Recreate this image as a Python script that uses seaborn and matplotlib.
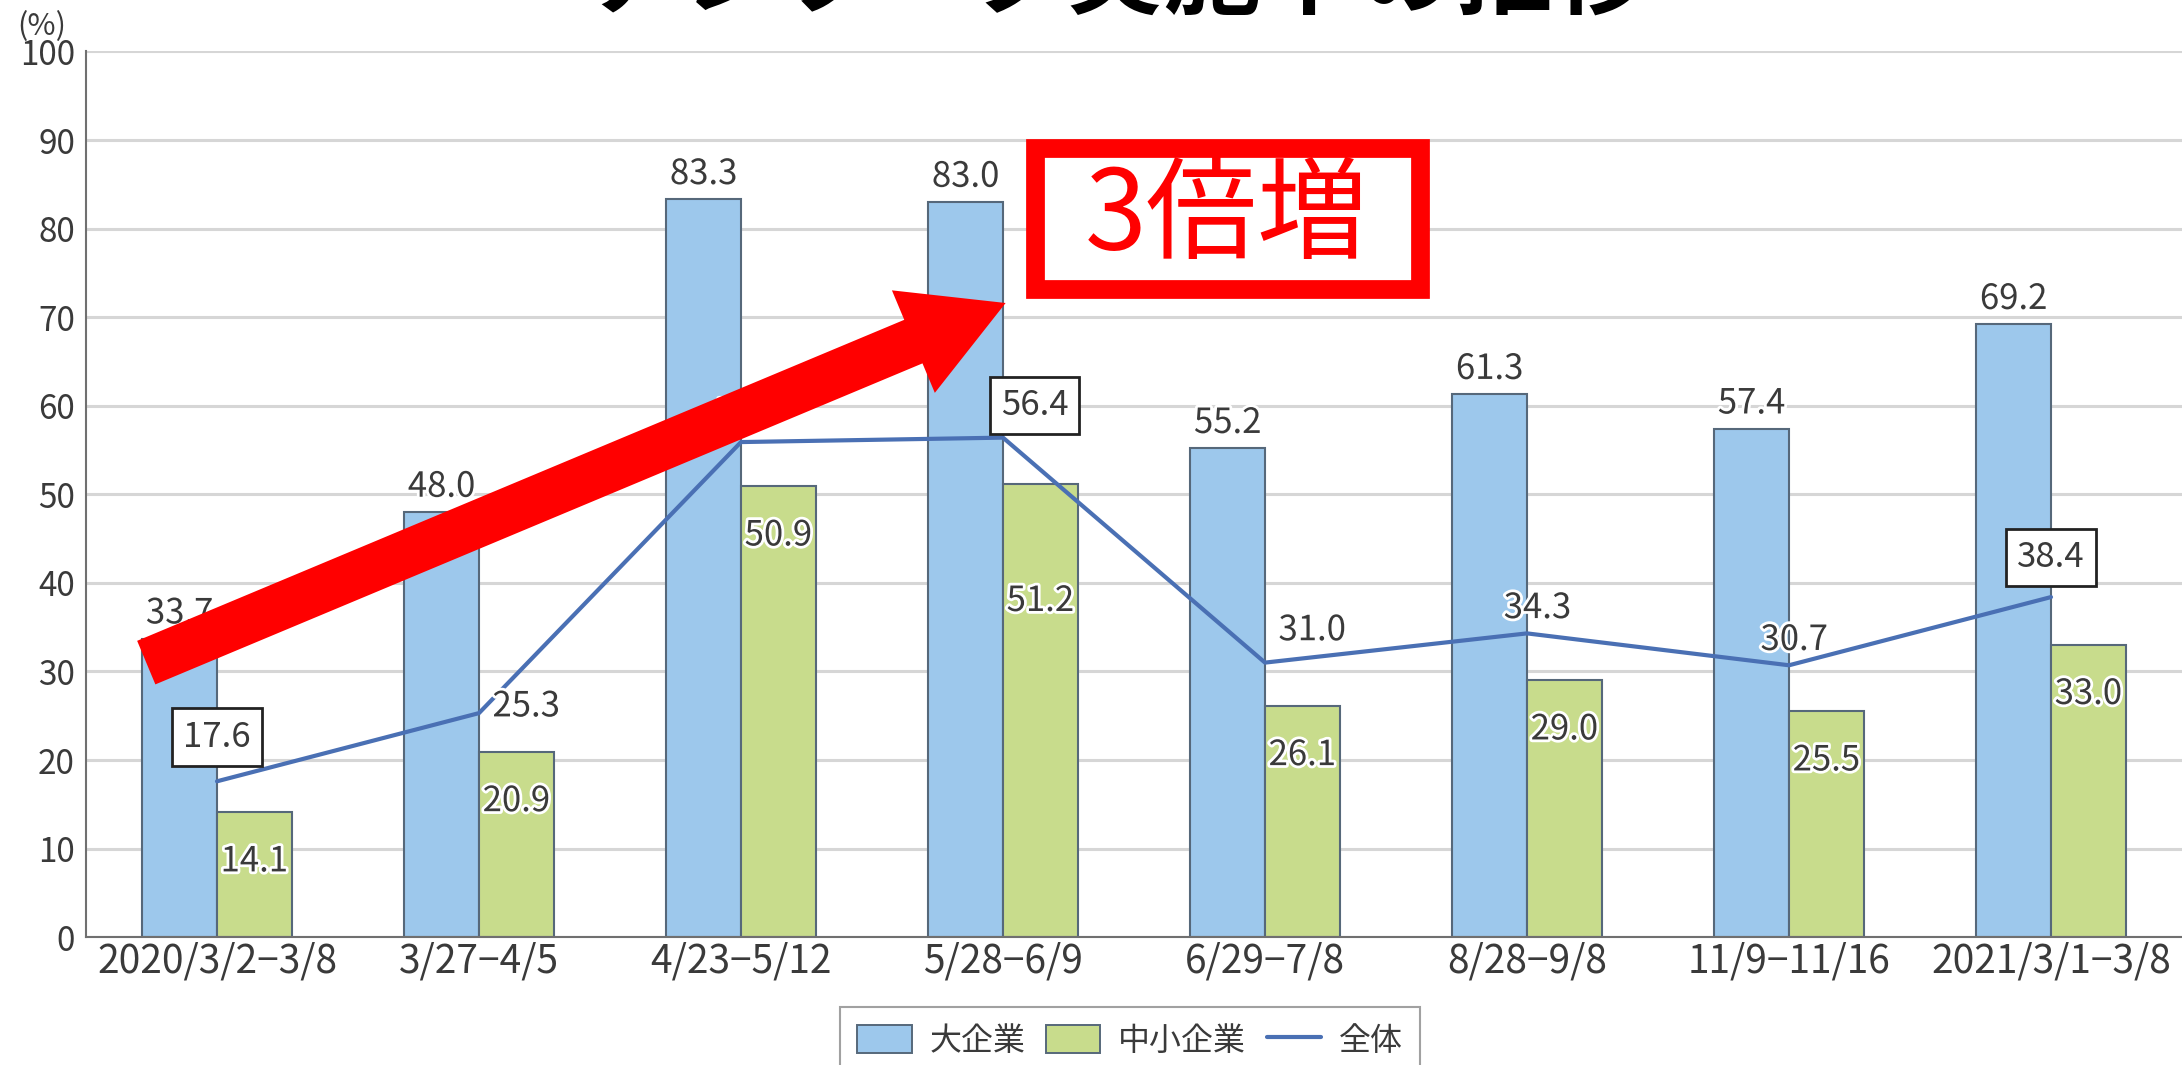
import numpy as np
import pandas as pd
import seaborn as sns
import matplotlib.pyplot as plt
import matplotlib.patheffects as pe
from matplotlib.patches import Patch, Rectangle, FancyArrowPatch, ArrowStyle
from matplotlib.lines import Line2D

# データ（テレワーク実施率, %）
periods = ["2020/3/2−3/8", "3/27−4/5", "4/23−5/12", "5/28−6/9",
           "6/29−7/8", "8/28−9/8", "11/9−11/16", "2021/3/1−3/8"]
large = [33.7, 48.0, 83.3, 83.0, 55.2, 61.3, 57.4, 69.2]
small = [14.1, 20.9, 50.9, 51.2, 26.1, 29.0, 25.5, 33.0]
total = [17.6, 25.3, 55.9, 56.4, 31.0, 34.3, 30.7, 38.4]
names = ["大企業", "中小企業", "全体"]

BLUE = "#9dc8ec"
GREEN = "#c8dc8c"
LINE = "#4a70b4"
EDGE = "#56687a"
TXT = "#3a3a3a"

sns.set_theme(style="white")
plt.rcParams["font.family"] = ["Noto Sans CJK JP", "DejaVu Sans"]

df = pd.DataFrame({
    "period": periods * 2,
    "value": large + small,
    "group": [names[0]] * len(periods) + [names[1]] * len(periods),
})

fig = plt.figure(figsize=(21.82, 10.65), dpi=100)
ax = fig.add_axes([86 / 2182, 0.120, 1 - 86 / 2182, 0.8317])

sns.barplot(data=df, x="period", y="value", hue="group", palette=[BLUE, GREEN],
            saturation=1, width=0.57, edgecolor=EDGE, linewidth=1.5, legend=False, ax=ax)
pos = np.arange(len(periods))
sns.lineplot(x=pos, y=total, color=LINE, lw=3, ax=ax, zorder=4)

ax.set_xlim(-0.5, len(periods) - 0.5)
ax.set_ylim(0, 100)
ax.set_yticks(range(0, 101, 10))
ax.set_xlabel("")
ax.set_ylabel("")
ax.yaxis.grid(True, color="#d6d6d6", lw=2.2)
ax.set_axisbelow(True)
for s in ["top", "right"]:
    ax.spines[s].set_visible(False)
for s in ["left", "bottom"]:
    ax.spines[s].set_color("#707070")
    ax.spines[s].set_linewidth(1.5)
ax.tick_params(axis="y", length=0, pad=8, labelsize=24, labelcolor=TXT)
ax.tick_params(axis="x", length=0, pad=3, labelsize=28, labelcolor=TXT)
ax.set_xticks(pos + 0.5, minor=True)
ax.tick_params(axis="x", which="minor", direction="in", length=8, width=1.3, color="#707070")

halo = [pe.withStroke(linewidth=4, foreground="white")]
bw = 0.57 / 2
for i in range(len(periods)):
    ax.text(i - bw / 2, large[i] + 2.8, f"{large[i]:.1f}", ha="center", va="center",
            fontsize=25, color=TXT, path_effects=halo, zorder=6)
    drop = 13.3 if i == 3 else 5.6
    ax.text(i + bw / 2, small[i] - drop, f"{small[i]:.1f}", ha="center", va="center",
            fontsize=25, color=TXT, path_effects=halo, zorder=6)

# 全体のラベル位置（点からのずれ）と枠付きの有無
line_offsets = [(0.0, 5.0), (0.18, 0.7), (0.03, 3.1), (0.12, 3.6),
                (0.18, 3.6), (0.04, 2.8), (0.02, 2.8), (0.0, 4.5)]
boxed = [True, False, False, True, False, False, False, True]
for i, (dx, dy) in enumerate(line_offsets):
    kw = dict(ha="center", va="center", fontsize=25, color=TXT, zorder=7)
    if boxed[i]:
        kw["bbox"] = dict(boxstyle="square,pad=0.32", fc="white", ec="#222222", lw=2)
    else:
        kw["path_effects"] = halo
    ax.text(i + dx, total[i] + dy, f"{total[i]:.1f}", **kw)

# 赤い矢印
arrow = FancyArrowPatch(posA=(-0.27, 31.0), posB=(3.01, 71.6),
                        arrowstyle=ArrowStyle.Simple(head_length=72, head_width=80, tail_width=34),
                        mutation_scale=1, shrinkA=0, shrinkB=0, color="#ff0000", lw=0, zorder=10)
ax.add_patch(arrow)

# 「3倍増」の枠
fig.patches.append(Rectangle((1035 / 2182, 1 - 289 / 1065), 385 / 2182, 141 / 1065,
                             transform=fig.transFigure, fc="white", ec="#ff0000", lw=13.5, zorder=11))
fig.text(1227 / 2182, 0.7953, "3倍増", color="#ff0000", fontsize=80, ha="center", va="center", zorder=12)

# 見切れているタイトルと単位
fig.text(0.5115, 0.994, "テレワーク実施率の推移", fontsize=70, fontweight="bold",
         ha="center", va="baseline", color="black")
fig.text(0.0192, 0.9755, "(%)", fontsize=22, ha="center", va="center", color=TXT)

handles = [Patch(fc=BLUE, ec=EDGE, lw=1.4), Patch(fc=GREEN, ec=EDGE, lw=1.4),
           Line2D([], [], color=LINE, lw=3)]
leg = fig.legend(handles, names, loc="upper center", bbox_to_anchor=(0.5179, 0.0545),
                 ncol=3, frameon=True, fancybox=False, edgecolor="#8a8a8a", fontsize=23,
                 handlelength=1.7, handleheight=1.0, handletextpad=0.55,
                 columnspacing=0.65, borderpad=0.55, borderaxespad=0)
leg.get_frame().set_linewidth(1.5)
for t in leg.get_texts():
    t.set_color(TXT)

fig.savefig("out.png", dpi=100)
